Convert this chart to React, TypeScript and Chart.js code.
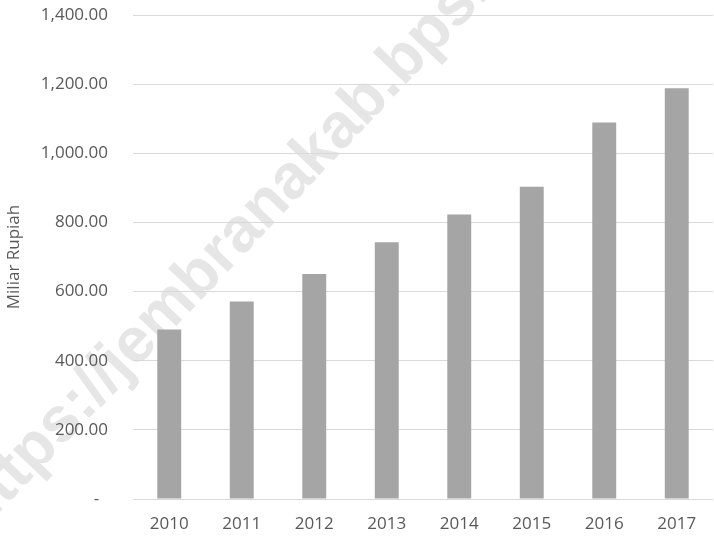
import React, { useEffect, useRef } from "react";
import { Chart, registerables } from "chart.js";

Chart.register(...registerables);

const years = ["2010", "2011", "2012", "2013", "2014", "2015", "2016", "2017"];
const values = [490, 571, 651, 743, 823, 903, 1089, 1188];
const yTicks = [0, 200, 400, 600, 800, 1000, 1200, 1400];
const axisTitle = "Miliar Rupiah";
const watermark = "https://jembranakab.bps.go.id";

const FONT = "'Open Sans', 'Noto Sans', sans-serif";

const watermarkPlugin = {
  id: "watermark",
  beforeDraw(chart: any) {
    const ctx = chart.ctx;
    ctx.save();
    ctx.translate(-21, 534);
    ctx.rotate((-46.5 * Math.PI) / 180);
    ctx.font = "bold 63px 'Liberation Sans', Arial, sans-serif";
    ctx.fillStyle = "#e6e6e6";
    ctx.textAlign = "left";
    ctx.textBaseline = "alphabetic";
    ctx.fillText(watermark, 0, 0);
    ctx.restore();
  },
};

export default function App() {
  const ref = useRef<HTMLCanvasElement | null>(null);

  useEffect(() => {
    document.body.style.margin = "0";
    const canvas = ref.current;
    if (!canvas) return;
    const chart = new Chart(canvas, {
      type: "bar",
      data: {
        labels: years,
        datasets: [
          {
            data: values,
            backgroundColor: "#a5a5a5",
            borderWidth: 0,
            categoryPercentage: 1,
            barPercentage: 0.33,
          },
        ],
      },
      options: {
        responsive: false,
        animation: false,
        layout: { padding: { top: 15, right: 1, left: 0, bottom: 0 } },
        plugins: {
          legend: { display: false },
          tooltip: { enabled: false },
        },
        scales: {
          x: {
            grid: { display: false, drawTicks: false },
            border: { display: false },
            ticks: {
              color: "#595959",
              font: { family: FONT, size: 17 },
              padding: 15,
              maxRotation: 0,
            },
            afterFit(scale: any) {
              scale.height = 37;
              scale.paddingLeft = 0;
              scale.paddingRight = 0;
            },
          },
          y: {
            min: 0,
            max: 1400,
            afterBuildTicks(scale: any) {
              scale.ticks = yTicks.map((v) => ({ value: v }));
            },
            grid: { color: "#d9d9d9", lineWidth: 1, drawTicks: false },
            border: { display: false },
            ticks: {
              color: "#595959",
              font: { family: FONT, size: 17 },
              padding: 25,
              callback: (v: any) =>
                Number(v) === 0
                  ? "-  "
                  : Number(v).toLocaleString("en-US", {
                      minimumFractionDigits: 2,
                      maximumFractionDigits: 2,
                    }),
            },
            title: {
              display: true,
              text: axisTitle,
              color: "#595959",
              font: { family: FONT, size: 17 },
              padding: { top: 4, bottom: 0 },
            },
            afterFit(scale: any) {
              scale.width = 133;
              scale.paddingTop = 0;
              scale.paddingBottom = 0;
            },
          },
        },
      },
      plugins: [watermarkPlugin],
    });
    return () => chart.destroy();
  }, []);

  return (
    <div style={{ width: 714, height: 536 }}>
      <canvas ref={ref} width={714} height={536} style={{ display: "block" }} />
    </div>
  );
}
